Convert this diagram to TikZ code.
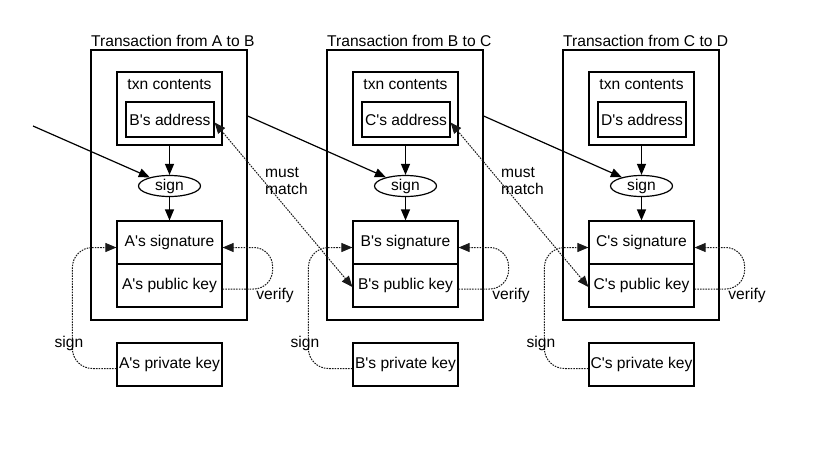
\documentclass[tikz,border=0pt]{standalone}
\usepackage{fontspec}
\setmainfont{Liberation Sans}
\usetikzlibrary{arrows.meta,shapes.geometric}
\newcommand\myq{\textquotesingle}
\begin{document}
\begin{tikzpicture}[x=1pt,y=-1pt,
  font=\fontsize{15.6}{17}\selectfont,
  frame/.style={draw, line width=1.2pt, minimum width=156pt, minimum height=270pt, inner sep=0pt},
  txnbox/.style={draw, line width=1.2pt, minimum width=105pt, minimum height=73pt, inner sep=0pt},
  addrbox/.style={draw, line width=1.2pt, minimum width=88pt, minimum height=35pt, inner sep=0pt},
  keybox/.style={draw, line width=1.2pt, minimum width=105pt, minimum height=43pt, inner sep=0pt},
  signell/.style={draw, ellipse, line width=1.2pt, minimum width=62pt, minimum height=21pt, inner sep=0pt},
  tip/.tip={Triangle[length=11pt,width=9pt]},
  arr/.style={-tip, line width=1.2pt},
  dotline/.style={line width=1pt, dash pattern=on 1.6pt off 1.1pt, black!90},
  lbl/.style={inner sep=0pt}]
\useasboundingbox (0,0) rectangle (813,453);
\fill[white] (0,0) rectangle (813,453);
\foreach \i/\f/\t in {1/A/B,2/B/C,3/C/D}{
  \pgfmathsetmacro\dx{(\i-1)*236}
  \node[frame] (outer\i) at (169+\dx,185) {};
  \node[lbl, anchor=base west] (title\i) at (91+\dx,46) {Transaction from \f\ to \t};
  \node[txnbox] (txn\i) at (169.5+\dx,108.5) {};
  \node[lbl, anchor=base] (txnlbl\i) at (169.5+\dx,89) {txn contents};
  \node[addrbox] (addr\i) at (170+\dx,119.5) {\t\myq s address};
  \node[signell] (sign\i) at (169.5+\dx,186) {sign};
  \node[keybox] (sig\i) at (169.5+\dx,242.5) {\f\myq s signature};
  \node[keybox] (pub\i) at (169.5+\dx,285.5) {\f\myq s public key};
  \node[keybox] (priv\i) at (169.5+\dx,364.5) {\f\myq s private key};
  \draw[arr] (txn\i) -- (sign\i);
  \draw[arr] (sign\i) -- (sig\i);
  \draw[dotline, -tip, rounded corners=20pt] ([yshift=-4pt]priv\i.west) -- ++(-44,0) |- ([yshift=-5pt]sig\i.west);
  \draw[dotline, -tip, rounded corners=19pt] ([yshift=-3.5pt]pub\i.east) -- ++(50,0) |- ([yshift=-5pt]sig\i.east);
  \node[lbl] (signlbl\i) at (69+\dx,343) {sign};
  \node[lbl] (verlbl\i) at (275+\dx,295) {verify};
}
\coordinate (in0) at (33,126);
\draw[arr] (in0) -- (sign1);
\foreach \i/\j in {1/2,2/3}{
  \pgfmathsetmacro\mx{265+(\i-1)*236}
  \coordinate (out\i) at (outer\i.east |- 0,116);
  \draw[arr] (out\i) -- (sign\j);
  \draw[dotline, tip-tip] ([yshift=-3pt]addr\i.east) -- ([yshift=-1.5pt]pub\j.west);
  \node[lbl, anchor=west, align=left] (mm\i) at (\mx,181) {must\\match};
}
\end{tikzpicture}
\end{document}
